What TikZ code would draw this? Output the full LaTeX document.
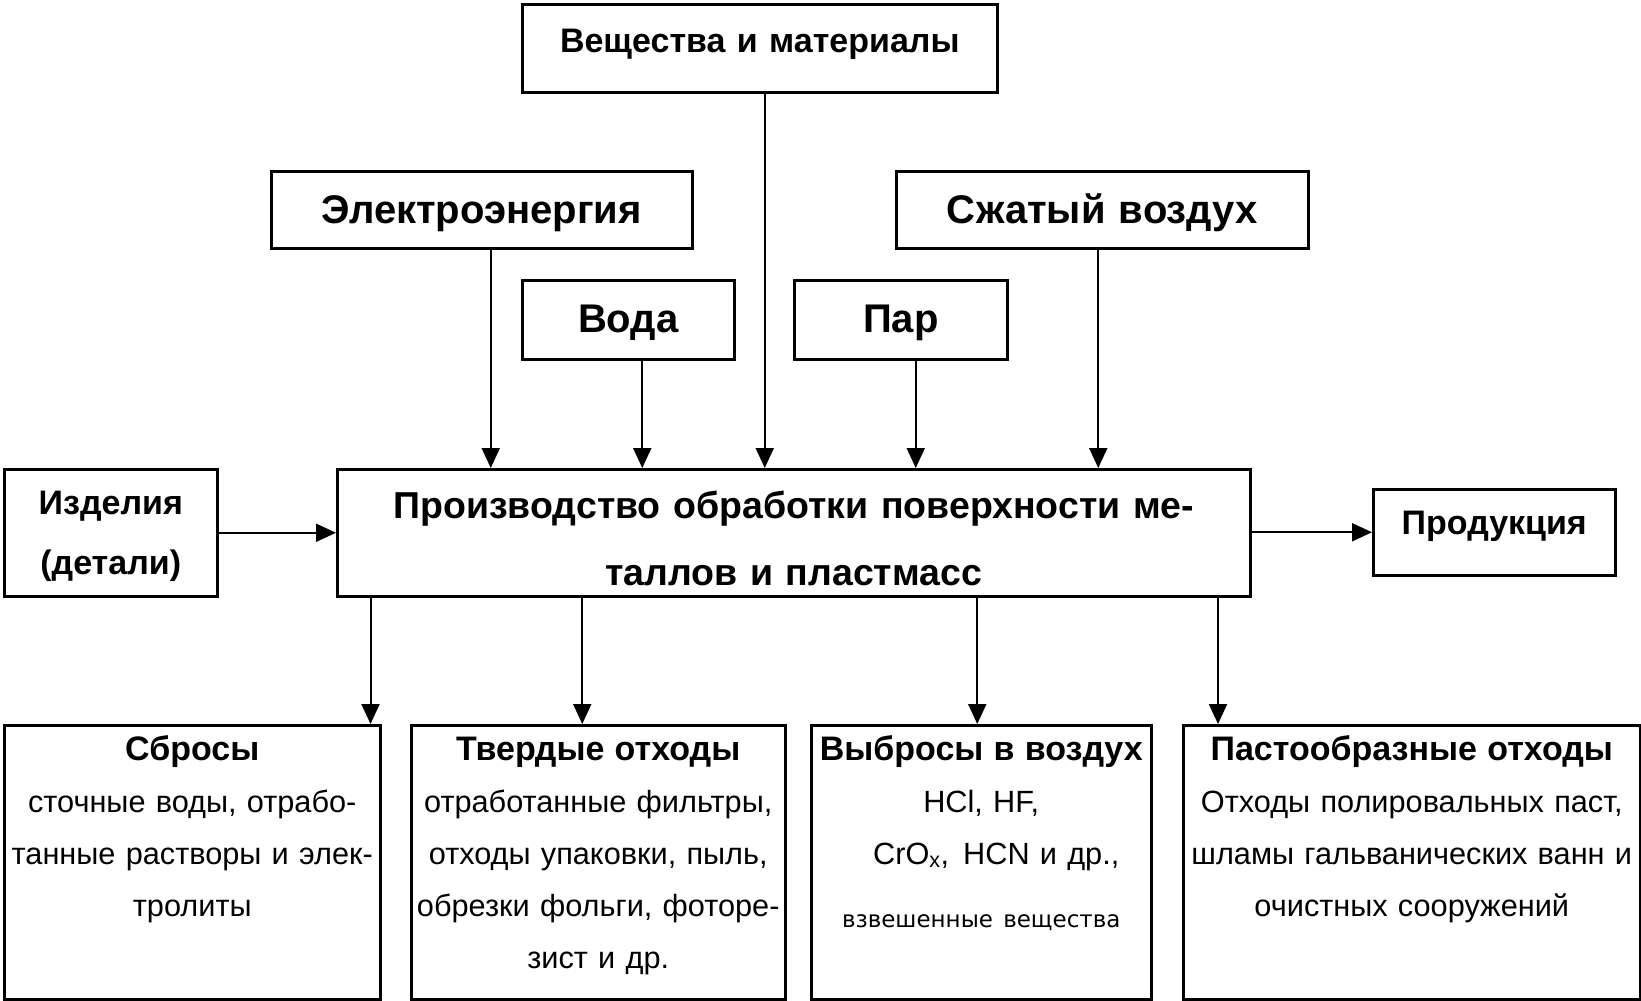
\documentclass[tikz,border=0pt]{standalone}
\usepackage{fontspec}
\setmainfont{Liberation Sans}
\newfontfamily\dejavu{DejaVu Sans}
\usetikzlibrary{arrows.meta}

\tikzset{
  blk/.style n args={3}{draw, line width=2.5pt, inner sep=0pt, anchor=north west, align=center,
    text width=#1pt, text height=#2pt, text depth=#3pt},
  arr/.style={line width=2pt, -{Triangle[length=20pt,width=18pt]}},
  big/.style={font=\bfseries\fontsize{40}{48}\selectfont},
  mid/.style={font=\bfseries\fontsize{34}{60}\selectfont},
  txt/.style={font=\fontsize{30.7}{52}\selectfont}
}

\begin{document}
\begin{tikzpicture}[x=1pt,y=-1pt]
\useasboundingbox (0,0) rectangle (1641,1001);

% vhody
\node[blk={475}{48}{40}, mid] (mat) at (521,3) {Вещества и материалы};
\node[blk={421}{52}{25}, big] (elek) at (270,170) {Электроэнергия};
\node[blk={412}{52}{25}, big] (szh) at (895,170) {Сжатый воздух};
\node[blk={212}{52}{27}, big] (voda) at (521,279) {Вода};
\node[blk={213}{52}{27}, big] (par) at (793,279) {Пар};

% proizvodstvo
\node[blk={913}{49}{78}, font=\bfseries\fontsize{37.5}{67}\selectfont] (main) at (336,468)
  {Производство обработки поверхности ме-\\таллов и пластмасс};
\node[blk={213}{45}{82}, mid] (izd) at (3,468) {Изделия\\(детали)};
\node[blk={242}{45}{41}, mid] (prod) at (1372,488) {Продукция};

% othody
\node[blk={376}{35}{239}, txt] (sbros) at (3,724)
  {{\bfseries\fontsize{34}{52}\selectfont Сбросы}\\сточные воды, отрабо-\\танные растворы и элек-\\тролиты};
\node[blk={374}{35}{239}, txt] (tverd) at (410,724)
  {{\bfseries\fontsize{34}{52}\selectfont Твердые отходы}\\отработанные фильтры,\\отходы упаковки, пыль,\\обрезки фольги, фоторе-\\зист и др.};
\node[blk={340}{35}{239}, txt] (vybr) at (810,724)
  {{\bfseries\fontsize{34}{52}\selectfont Выбросы в воздух}\\HCl, HF,\\\hspace*{30pt}CrO\textsubscript{x},\hspace{14pt}HCN и др.,\\[11pt]{\dejavu\fontsize{23}{52}\selectfont взвешенные вещества}};
\node[blk={457}{35}{239}, txt] (past) at (1182,724)
  {{\bfseries\fontsize{34}{52}\selectfont Пастообразные отходы}\\Отходы полировальных паст,\\шламы гальванических ванн и\\очистных сооружений};

% strelki sverhu
\draw[arr] ([xshift=5]mat.south) -- ([xshift=5]mat.south |- main.north);
\draw[arr] ([xshift=9]elek.south) -- ([xshift=9]elek.south |- main.north);
\draw[arr] ([xshift=-4]szh.south) -- ([xshift=-4]szh.south |- main.north);
\draw[arr] ([xshift=14]voda.south) -- ([xshift=14]voda.south |- main.north);
\draw[arr] ([xshift=15]par.south) -- ([xshift=15]par.south |- main.north);

% sleva i sprava
\draw[arr] (izd.east) -- (main.west);
\draw[arr] (main.east |- prod.west) -- (prod.west);

% strelki vniz
\draw[arr] ([xshift=-11]sbros.north east |- main.south) -- ([xshift=-11]sbros.north east);
\draw[arr] ([xshift=-16]tverd.north |- main.south) -- ([xshift=-16]tverd.north);
\draw[arr] ([xshift=-4]vybr.north |- main.south) -- ([xshift=-4]vybr.north);
\draw[arr] ([xshift=36]past.north west |- main.south) -- ([xshift=36]past.north west);

\end{tikzpicture}
\end{document}
